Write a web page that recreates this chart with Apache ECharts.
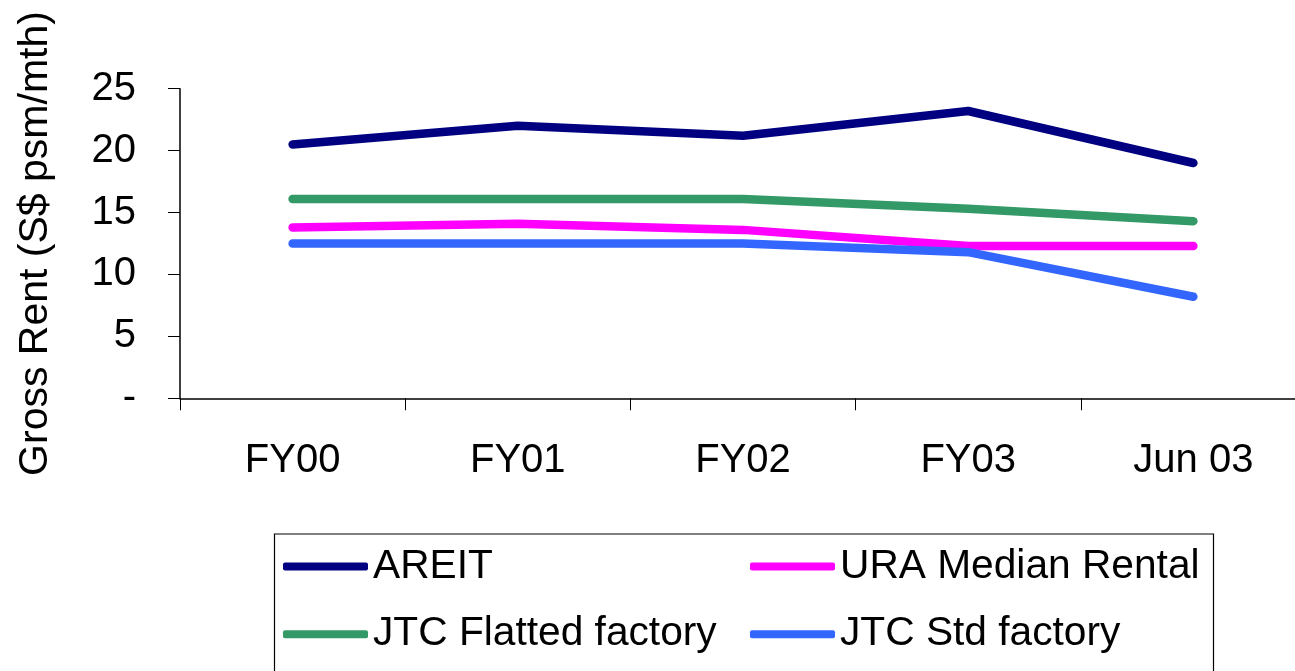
<!DOCTYPE html>
<html>
<head>
<meta charset="utf-8">
<script src="https://cdn.jsdelivr.net/npm/echarts@6/dist/echarts.min.js"></script>
<style>
html,body{margin:0;padding:0;background:#fff;}
#chart{width:1295px;height:671px;}
</style>
</head>
<body>
<div id="chart"></div>
<script>
var categories = ['FY00', 'FY01', 'FY02', 'FY03', 'Jun 03'];
var areit = [20.5, 22.0, 21.2, 23.2, 19.0];
var ura = [13.8, 14.1, 13.6, 12.3, 12.3];
var jtcFlatted = [16.1, 16.1, 16.1, 15.3, 14.3];
var jtcStd = [12.5, 12.5, 12.5, 11.8, 8.2];
var yTicks = [0, 5, 10, 15, 20, 25];

var FONT = '"Liberation Sans", Arial, sans-serif';
var chart = echarts.init(document.getElementById('chart'));

function mk(name, data, color) {
  return {
    name: name, type: 'line', data: data, symbol: 'none',
    lineStyle: { color: color, width: 8.5, cap: 'round', join: 'round' },
    itemStyle: { color: color },
    animation: false
  };
}

var legendText = { fontFamily: FONT, fontSize: 40.7, color: '#000', lineHeight: 40 };

chart.setOption({
  animation: false,
  backgroundColor: '#fff',
  grid: { left: 180, top: 88.7, width: 1126, bottom: 272.7, containLabel: false, outerBoundsMode: 'none' },
  xAxis: {
    type: 'category', data: categories, boundaryGap: true,
    axisLine: { lineStyle: { color: '#000', width: 1.5 } },
    axisTick: { show: true, length: 12, inside: false, lineStyle: { color: '#000', width: 1 } },
    axisLabel: { fontFamily: FONT, fontSize: 40, color: '#000', margin: 43 },
    splitLine: { show: false }
  },
  yAxis: {
    type: 'value', min: yTicks[0], max: yTicks[yTicks.length - 1], interval: 5,
    name: 'Gross Rent (S$ psm/mth)', nameLocation: 'middle', nameRotate: 90, nameGap: 124,
    nameTextStyle: { fontFamily: FONT, fontSize: 41, color: '#000' },
    axisLine: { show: true, lineStyle: { color: '#000', width: 1.5 } },
    axisTick: { show: true, length: 12, lineStyle: { color: '#000', width: 1 } },
    axisLabel: { fontFamily: FONT, fontSize: 40, color: '#000', margin: 44,
      formatter: function (v) { return v === 0 ? '-' : String(v); } },
    splitLine: { show: false }
  },
  legend: [
    { data: ['AREIT', 'JTC Flatted factory'], orient: 'vertical', left: 283, top: 546,
      itemWidth: 85, itemHeight: 8, itemGap: 26.7, icon: 'roundRect', textStyle: legendText, padding: 0 },
    { data: ['URA Median Rental', 'JTC Std factory'], orient: 'vertical', left: 750, top: 546,
      itemWidth: 85, itemHeight: 8, itemGap: 26.7, icon: 'roundRect', textStyle: legendText, padding: 0 }
  ],
  graphic: [{
    type: 'rect', left: 272, top: 531.5,
    shape: { width: 939, height: 160 },
    style: { fill: 'none', stroke: '#000', lineWidth: 1.2 },
    silent: true
  }],
  series: [
    mk('AREIT', areit, '#000080'),
    mk('URA Median Rental', ura, '#FF00FF'),
    mk('JTC Flatted factory', jtcFlatted, '#339966'),
    mk('JTC Std factory', jtcStd, '#3366FF')
  ]
});
</script>
</body>
</html>
